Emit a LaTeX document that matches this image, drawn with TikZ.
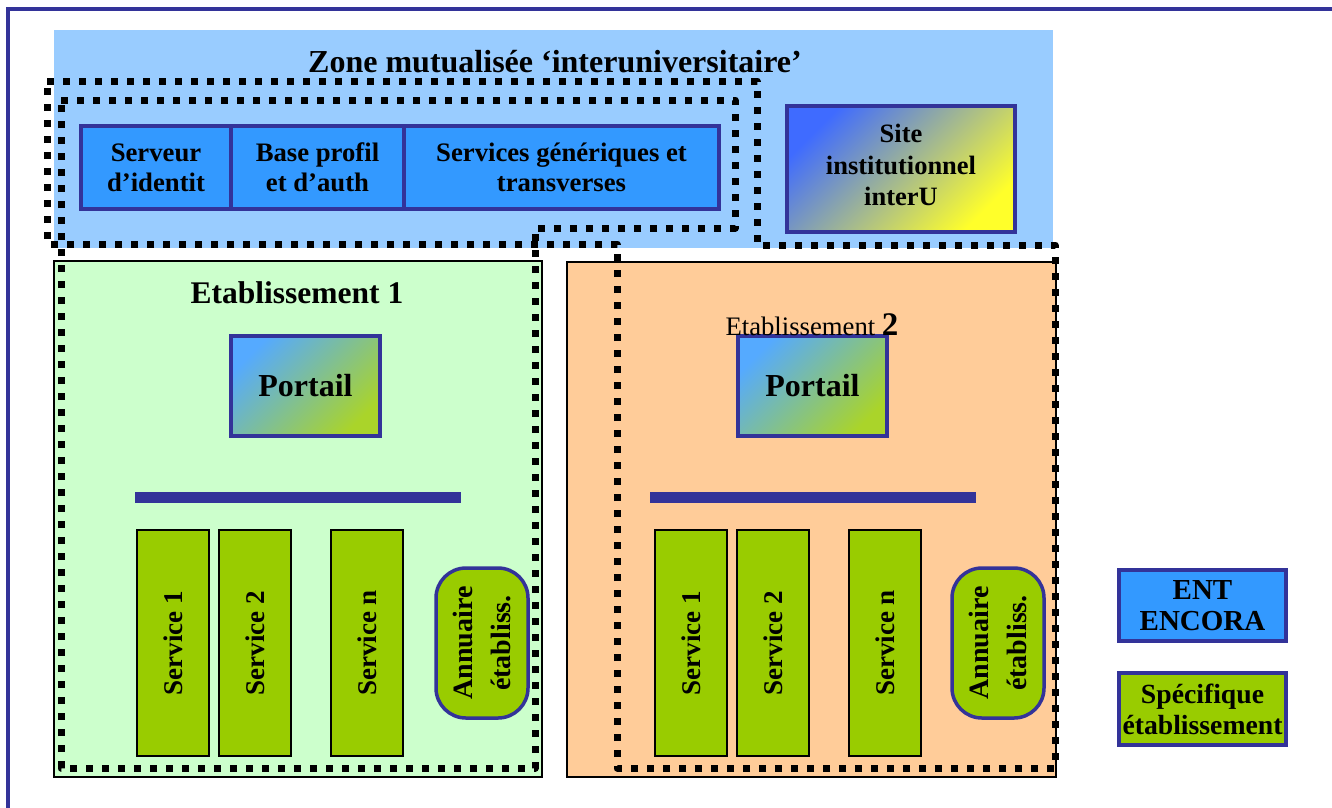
\documentclass[tikz,border=0pt]{standalone}
\usepackage{fontspec}
\setmainfont{Liberation Serif}

\definecolor{frameblue}{HTML}{333399}
\definecolor{zoneblue}{HTML}{99CCFF}
\definecolor{entblue}{HTML}{3399FF}
\definecolor{etabgreen}{HTML}{CCFFCC}
\definecolor{etaborange}{HTML}{FFCC99}
\definecolor{specgreen}{HTML}{99CC00}
\definecolor{sitetl}{HTML}{3F6BFF}
\definecolor{sitemid}{HTML}{B6BCC4}
\definecolor{sitebr}{HTML}{FFFF2A}
\definecolor{portl}{HTML}{55AAFF}
\definecolor{pormid}{HTML}{88BBA8}
\definecolor{porbr}{HTML}{AAD42A}

\tikzset{
  entbox/.style={draw=frameblue, line width=3.5pt, fill=entblue, inner sep=0pt,
    align=center, font=\bfseries\fontsize{26.7}{30}\selectfont},
  etabbox/.style={draw=black, line width=2pt, inner sep=0pt},
  portalbox/.style={draw=frameblue, line width=3.5pt, inner sep=0pt,
    top color=portl, middle color=pormid, bottom color=porbr, shading angle=45,
    minimum width=149pt, minimum height=100pt,
    font=\bfseries\fontsize{32}{36}\selectfont},
  busbar/.style={fill=frameblue, draw=none, inner sep=0pt,
    minimum width=326pt, minimum height=11pt},
  servicebox/.style={draw=black, line width=2pt, fill=specgreen, inner sep=0pt,
    rotate=90, minimum width=226pt, minimum height=72pt,
    font=\bfseries\fontsize{27}{31}\selectfont},
  dirbox/.style={draw=frameblue, line width=3.5pt, fill=specgreen, inner sep=0pt,
    rotate=90, minimum width=150pt, minimum height=92pt, rounded corners=30pt,
    align=center, font=\bfseries\fontsize{28}{38}\selectfont},
  entloop/.style={draw=black, line width=7pt, dash pattern=on 7.3pt off 8.7pt,
    line join=round},
  keybox/.style={draw=frameblue, line width=3.5pt, inner sep=0pt, align=center,
    minimum width=167pt, minimum height=71pt},
}

\begin{document}
\begin{tikzpicture}[x=1pt,y=-1pt]
\useasboundingbox (0,0) rectangle (1332,807);

% page frame
\coordinate (fbl) at (8,809);
\coordinate (ftl) at (8,9);
\coordinate (ftr) at (1334,9);
\draw[frameblue, line width=4pt] (fbl) -- (ftl) -- (ftr);

% shared inter-university zone
\node[fill=zoneblue, inner sep=0pt, minimum width=999pt, minimum height=218pt]
  (zone) at (553.5,139) {};
\node[font=\bfseries\fontsize{32}{36}\selectfont] (zonetitle) at (555,62)
  {Zone mutualisée ‘interuniversitaire’};

\node[entbox, minimum width=150pt, minimum height=83pt] (ident) at (156,167.5)
  {Serveur\\d’identit};
\node[entbox, minimum width=173pt, minimum height=83pt] (profil) at (317.5,167.5)
  {Base profil\\et d’auth};
\node[entbox, minimum width=315pt, minimum height=83pt] (generic) at (561.5,167.5)
  {Services génériques et\\transverses};

\node[draw=frameblue, line width=3.5pt, inner sep=0pt,
  top color=sitetl, middle color=sitemid, bottom color=sitebr, shading angle=45,
  minimum width=228pt, minimum height=126pt, align=center,
  font=\bfseries\fontsize{26.5}{31.5}\selectfont] (site) at (901,169)
  {Site\\institutionnel\\interU\\[-23.5pt]};

% establishment 1
\node[etabbox, fill=etabgreen, minimum width=488pt, minimum height=516pt]
  (etab1) at (298,519) {};
\node[font=\bfseries\fontsize{31.5}{35}\selectfont] (etab1title) at (297,293)
  {Etablissement 1};
\node[portalbox] (portal1) at (305.5,386) {Portail};
\node[busbar] (bus1) at (298,497) {};
\node[servicebox] (s11) at (173,643) {Service 1};
\node[servicebox] (s12) at (255,643) {Service 2};
\node[servicebox] (s1n) at (367,643) {Service n};
\node[dirbox] (dir1) at (482,643) {Annuaire\\établiss.};

% establishment 2
\node[etabbox, fill=etaborange, minimum width=489pt, minimum height=515pt]
  (etab2) at (811.5,519.5) {};
\node[portalbox] (portal2) at (812.5,386) {Portail};
\node[inner sep=0pt, anchor=base] (etab2title) at (812,335)
  {\fontsize{26.7}{30}\selectfont Etablissement {\bfseries\fontsize{33}{36}\selectfont 2}};
\node[busbar] (bus2) at (813,497) {};
\node[servicebox] (s21) at (691,643) {Service 1};
\node[servicebox] (s22) at (773,643) {Service 2};
\node[servicebox] (s2n) at (885,643) {Service n};
\node[dirbox] (dir2) at (998,643) {Annuaire\\établiss.};

% ENT perimeters
\draw[entloop] (61,100) -- (735,100) -- (735,228) -- (535,228) -- (535,768)
  -- (61,768) -- cycle;
\draw[entloop] (47,81) -- (757,81) -- (757,245) -- (1055,245) -- (1055,768)
  -- (617,768) -- (617,244) -- (47,244) -- cycle;

% key
\node[keybox, fill=entblue, font=\bfseries\fontsize{29}{31}\selectfont]
  (keyent) at (1202.5,605.5) {ENT\\ENCORA};
\node[keybox, fill=specgreen, minimum height=72pt,
  font=\bfseries\fontsize{27.7}{31}\selectfont]
  (keyspec) at (1202.5,709) {Spécifique\\établissement};
\end{tikzpicture}
\end{document}
